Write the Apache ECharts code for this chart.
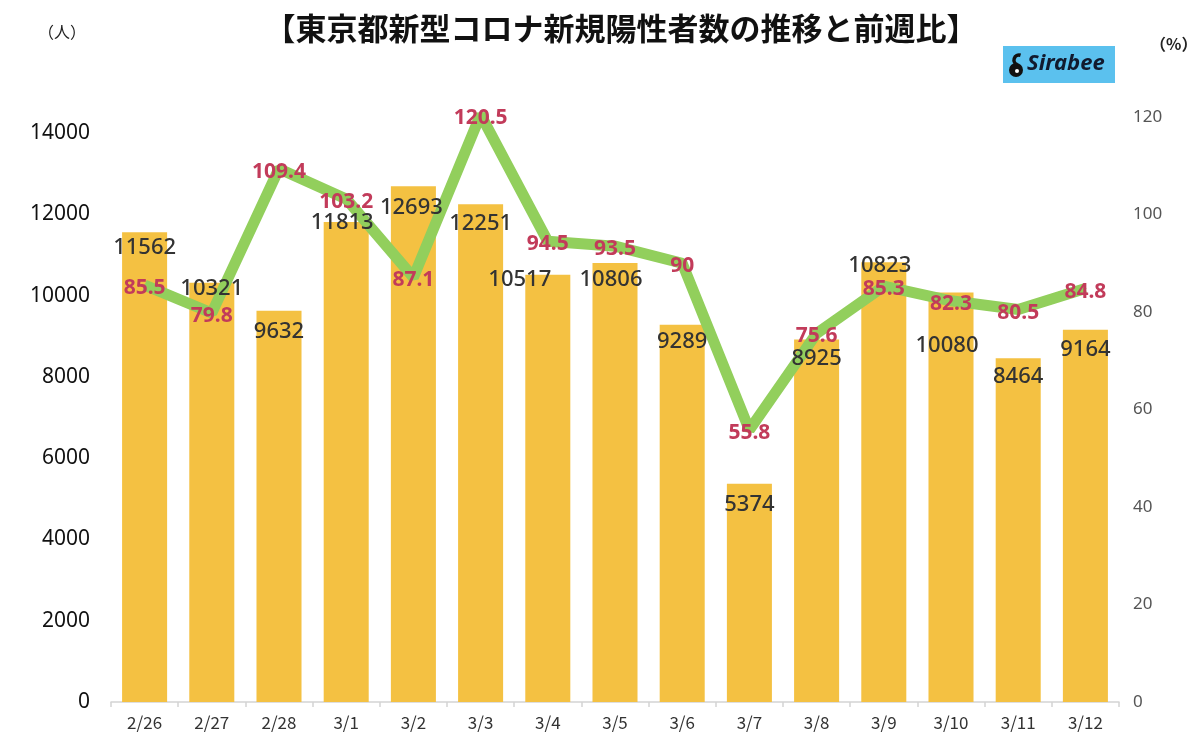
<!DOCTYPE html>
<html><head><meta charset="utf-8">
<script src="https://cdn.jsdelivr.net/npm/echarts@6/dist/echarts.min.js"></script>
<style>html,body{margin:0;padding:0;background:#fff}#c{width:1200px;height:744px}</style>
</head><body><div id="c"></div>
<script>
const categories = ['2/26','2/27','2/28','3/1','3/2','3/3','3/4','3/5','3/6','3/7','3/8','3/9','3/10','3/11','3/12'];
const cases = [11562,10321,9632,11813,12693,12251,10517,10806,9289,5374,8925,10823,10080,8464,9164];
const weekRatio = [85.5,79.8,109.4,103.2,87.1,120.5,94.5,93.5,90,55.8,75.6,85.3,82.3,80.5,84.8];
// label nudges (layout only) for bar value labels, [dx, dy]
const barLabelNudge = [[0,-4],[0,-13],[0,2],[-4,-18],[-2,2],[0,0],[-28,-14],[-4,-2],[0,-2],[0,2],[0,0],[-4,-16],[-4,34],[0,0],[0,1]];

const FONT = '"Noto Sans CJK JP","Noto Sans",sans-serif';
const chart = echarts.init(document.getElementById('c'));
chart.setOption({
  animation:false,
  backgroundColor:'#fff',
  title:{text:'【東京都新型コロナ新規陽性者数の推移と前週比】',left:616,textAlign:'center',top:8,
    textStyle:{fontFamily:FONT,fontSize:31,fontWeight:'bold',color:'#111'}},
  grid:{left:111,right:81,top:117,bottom:42},
  xAxis:{type:'category',data:categories,
    axisLine:{lineStyle:{color:'#d4d4d4',width:1.5}},
    axisTick:{show:true,alignWithLabel:false,length:5,lineStyle:{color:'#d4d4d4',width:1.5}},
    axisLabel:{color:'#333',fontSize:17,fontFamily:FONT,margin:12}},
  yAxis:[
    {type:'value',min:0,max:14400,interval:2000,splitLine:{show:false},
     axisLine:{show:false},axisTick:{show:false},
     axisLabel:{color:'#111',fontSize:21,fontFamily:'"Noto Sans",sans-serif',margin:21,showMaxLabel:false,
       formatter:v=>String(v)}},
    {type:'value',min:0,max:120,interval:20,splitLine:{show:false},
     axisLine:{show:false},axisTick:{show:false},
     axisLabel:{color:'#555',fontSize:17,fontFamily:'"Noto Sans",sans-serif',margin:14}}
  ],
  series:[
    {type:'bar',data:cases,yAxisIndex:0,barWidth:'67%',z:1,
     itemStyle:{color:'#f4c142'},label:{show:false}},
    {type:'line',data:weekRatio,yAxisIndex:1,z:3,clip:false,
     symbol:'circle',symbolSize:2,
     lineStyle:{color:'#92cf5c',width:11},itemStyle:{color:'#92cf5c'},
     label:{show:true,position:'inside',offset:[0,3],color:'#c23b5a',fontSize:21,fontWeight:'bold',
       fontFamily:'"Noto Sans",sans-serif'}},
    {type:'bar',yAxisIndex:0,barWidth:'67%',barGap:'-100%',z:5,silent:true,
     data:cases.map((v,i)=>({value:v,label:{offset:barLabelNudge[i]}})),
     itemStyle:{color:'rgba(0,0,0,0)'},
     label:{show:true,position:'insideTop',distance:8,color:'#333',fontSize:22,fontWeight:500,
       fontFamily:'"Noto Sans",sans-serif'}}
  ],
  graphic:[
    {type:'text',left:38,top:24,style:{text:'（人）',fontSize:16,fontFamily:FONT,fill:'#222'}},
    {type:'text',left:1150,top:36,style:{text:'（%）',fontSize:16,fontFamily:FONT,fill:'#222',fontWeight:'bold'}},
    {type:'rect',shape:{x:1003,y:46,width:112,height:37},style:{fill:'#5bc1ee'}},
    {type:'circle',shape:{cx:1016,cy:70,r:7},style:{fill:'#111'}},
    {type:'arc',shape:{cx:1019,cy:60,r:5,startAngle:Math.PI*0.6,endAngle:Math.PI*1.6},style:{stroke:'#111',lineWidth:3.5,fill:null}},
    {type:'circle',shape:{cx:1017,cy:71,r:2},style:{fill:'#fff'}},
    {type:'text',left:1027,top:53,style:{text:'Sirabee',fontSize:22,fontStyle:'italic',fontWeight:'bold',
      fontFamily:'"Noto Sans",sans-serif',fill:'#111a2e'}}
  ]
});
</script></body></html>
